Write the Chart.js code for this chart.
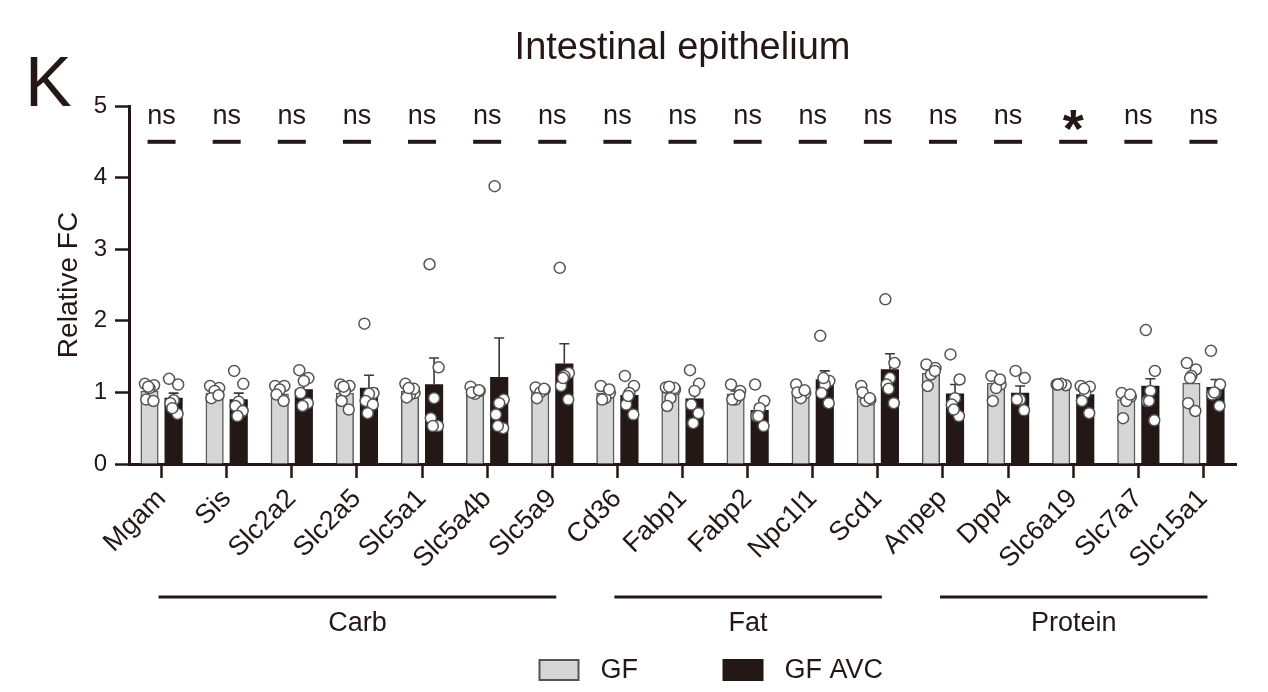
<!DOCTYPE html>
<html>
<head>
<meta charset="utf-8">
<title>Intestinal epithelium</title>
<script src="https://cdn.jsdelivr.net/npm/chart.js@4.4.1/dist/chart.umd.min.js"></script>
<style>
  html, body { margin: 0; padding: 0; background: #fff; }
</style>
</head>
<body>
<canvas id="chart" width="1268" height="692"></canvas>
<script>
// Genes on the x axis
const genes = ['Mgam', 'Sis', 'Slc2a2', 'Slc2a5', 'Slc5a1', 'Slc5a4b', 'Slc5a9',
  'Cd36', 'Fabp1', 'Fabp2', 'Npc1l1', 'Scd1',
  'Anpep', 'Dpp4', 'Slc6a19', 'Slc7a7', 'Slc15a1'];

// Nutrient groups (first and last gene index)
const groupNames = ['Carb', 'Fat', 'Protein'];
const groupStart = [0, 7, 12];
const groupEnd = [6, 11, 16];

// Bar means and SEM
const gfMean = [1.02, 0.99, 0.98, 0.99, 1.02, 1.02, 1.02, 0.99, 1.0, 0.98, 0.99, 0.95, 1.27, 1.13, 1.13, 0.9, 1.13];
const gfSem = [0.04, 0.03, 0.03, 0.05, 0.03, 0.02, 0.02, 0.03, 0.04, 0.04, 0.03, 0.04, 0.05, 0.05, 0.01, 0.05, 0.1];
const avcMean = [0.92, 0.9, 1.04, 1.06, 1.11, 1.21, 1.4, 0.96, 0.91, 0.75, 1.18, 1.32, 0.98, 0.99, 0.97, 1.09, 1.07];
const avcSem = [0.07, 0.09, 0.07, 0.18, 0.37, 0.55, 0.28, 0.07, 0.1, 0.08, 0.12, 0.22, 0.13, 0.1, 0.06, 0.1, 0.11];

// Individual animals
const gfPoints = [
  [1.12, 1.1, 1.06, 0.9, 0.88, 1.08],
  [1.09, 1.06, 1.02, 0.92, 0.96],
  [1.09, 1.09, 1.04, 0.97, 0.88],
  [1.11, 1.09, 1.02, 0.88, 0.76, 1.08],
  [1.12, 0.99, 0.97, 0.93, 1.05, 1.06],
  [1.08, 1.02, 0.98, 1.0, 1.03],
  [1.07, 1.04, 1.0, 0.92, 1.05],
  [1.09, 0.99, 0.92, 0.9, 1.04],
  [1.07, 1.04, 0.92, 0.81, 1.06, 1.08],
  [1.11, 1.02, 0.9, 0.9, 0.96],
  [1.11, 0.99, 0.92, 1.0, 1.03],
  [1.09, 0.9, 0.88, 1.0, 0.92],
  [1.39, 1.34, 1.25, 1.09, 1.3],
  [1.23, 1.11, 1.06, 0.88, 1.18],
  [1.11, 1.1, 1.12, 1.11],
  [0.99, 0.94, 0.88, 0.64, 0.97],
  [1.41, 1.32, 1.23, 0.85, 0.74, 1.2]
];
const avcPoints = [
  [1.19, 1.11, 0.89, 0.85, 0.7, 0.78],
  [1.3, 1.12, 0.87, 0.81, 0.74, 0.67],
  [1.31, 1.2, 1.16, 0.99, 0.85, 0.81],
  [1.96, 0.99, 0.98, 0.88, 0.83, 0.71],
  [2.79, 1.35, 0.92, 0.64, 0.53, 0.53],
  [3.88, 0.9, 0.85, 0.69, 0.5, 0.53],
  [2.74, 1.27, 1.23, 1.09, 0.9, 1.2],
  [1.23, 1.09, 0.99, 0.83, 0.69, 0.95],
  [1.31, 1.12, 1.02, 0.83, 0.71, 0.57],
  [1.11, 0.88, 0.78, 0.67, 0.53, 0.67],
  [1.79, 1.16, 1.11, 0.99, 0.85, 1.2],
  [2.3, 1.41, 1.2, 1.11, 0.85, 1.05],
  [1.53, 1.18, 0.92, 0.83, 0.67, 0.76],
  [1.3, 1.2, 0.9, 0.9, 0.75],
  [1.09, 1.08, 0.99, 0.88, 0.71, 1.05],
  [1.87, 1.3, 1.02, 0.88, 0.61, 0.88],
  [1.58, 1.11, 0.99, 0.97, 0.81, 1.0]
];

// Significance GF vs GF AVC
const sigLabels = ['ns', 'ns', 'ns', 'ns', 'ns', 'ns', 'ns', 'ns', 'ns', 'ns', 'ns', 'ns', 'ns', 'ns', '*', 'ns', 'ns'];

const ink = '#231815';
const gray = '#d6d6d6';
const fontFamily = '"Liberation Sans", Arial, sans-serif';
Chart.defaults.font.family = fontFamily;
Chart.defaults.color = ink;

// where each group's bar sits inside a category, and how dots spread in it
const barShift = 0.185;
const spread = [-0.07, 0.07, 0, -0.05, 0.06, -0.02];

function toBars(means, shift) {
  return means.map((v, i) => ({ x: i + shift, y: v }));
}

function toDots(points, shift) {
  const out = [];
  points.forEach((vals, i) => {
    vals.forEach((v, j) => out.push({ x: i + shift + spread[j % spread.length], y: v }));
  });
  return out;
}

const decor = {
  id: 'decor',
  afterDatasetDraw(chart, args) {
    const ds = chart.data.datasets[args.index];
    if (!ds.sem) return;
    const ctx = chart.ctx;
    const y = chart.scales.y;
    ctx.save();
    ctx.strokeStyle = '#3a3a3a';
    ctx.lineWidth = 1.6;
    args.meta.data.forEach((bar, i) => {
      const top = y.getPixelForValue(ds.data[i].y + ds.sem[i]);
      ctx.beginPath();
      ctx.moveTo(bar.x, bar.y);
      ctx.lineTo(bar.x, top);
      ctx.moveTo(bar.x - 5, top);
      ctx.lineTo(bar.x + 5, top);
      ctx.stroke();
    });
    ctx.restore();
  },
  afterDraw(chart) {
    const { ctx, chartArea: area, scales: { x, y } } = chart;
    const mid = (area.left + area.right) / 2;
    ctx.save();
    ctx.fillStyle = ink;
    ctx.strokeStyle = ink;

    // panel letter and title
    ctx.textBaseline = 'alphabetic';
    ctx.textAlign = 'left';
    ctx.font = '70px ' + fontFamily;
    ctx.fillText('K', 25, 106);
    ctx.textAlign = 'center';
    ctx.font = '38px ' + fontFamily;
    ctx.fillText('Intestinal epithelium', mid, 59);

    // significance marks
    genes.forEach((g, i) => {
      const cx = x.getPixelForValue(i);
      const yd = y.getPixelForValue(4.5);
      ctx.lineWidth = 4;
      ctx.beginPath();
      ctx.moveTo(cx - 14, yd);
      ctx.lineTo(cx + 14, yd);
      ctx.stroke();
      if (sigLabels[i] === '*') {
        ctx.font = 'bold 54px ' + fontFamily;
        const m = ctx.measureText('*');
        const yc = y.getPixelForValue(4.8);
        ctx.fillText('*', cx, yc + (m.actualBoundingBoxAscent - m.actualBoundingBoxDescent) / 2);
      } else {
        ctx.font = '27px ' + fontFamily;
        ctx.fillText(sigLabels[i], cx, y.getPixelForValue(4.75));
      }
    });

    // nutrient group brackets
    const lineY = area.bottom + 133;
    groupNames.forEach((name, k) => {
      const x0 = x.getPixelForValue(groupStart[k]) - 3;
      const x1 = x.getPixelForValue(groupEnd[k]) + 4;
      ctx.lineWidth = 3;
      ctx.beginPath();
      ctx.moveTo(x0, lineY);
      ctx.lineTo(x1, lineY);
      ctx.stroke();
      ctx.font = '27px ' + fontFamily;
      ctx.textBaseline = 'middle';
      ctx.fillText(name, (x0 + x1) / 2, lineY + 27);
    });

    // legend
    const legY = area.bottom + 196;
    const items = [
      { label: 'GF', fill: gray, stroke: '#555', dx: -143 },
      { label: 'GF AVC', fill: ink, stroke: ink, dx: 41 }
    ];
    ctx.textAlign = 'left';
    ctx.textBaseline = 'middle';
    ctx.font = '27px ' + fontFamily;
    items.forEach(it => {
      const bx = mid + it.dx;
      ctx.fillStyle = it.fill;
      ctx.fillRect(bx, legY, 39, 20);
      ctx.strokeStyle = it.stroke;
      ctx.lineWidth = 2;
      ctx.strokeRect(bx, legY, 39, 20);
      ctx.fillStyle = ink;
      ctx.fillText(it.label, bx + 61, legY + 11);
    });
    ctx.restore();
  }
};

const dotStyle = {
  type: 'scatter',
  xAxisID: 'xp',
  pointRadius: 5.5,
  pointBackgroundColor: '#fff',
  pointBorderColor: '#555',
  pointBorderWidth: 1.5,
  order: 1
};

const ctx = document.getElementById('chart').getContext('2d');
new Chart(ctx, {
  type: 'bar',
  data: {
    labels: genes,
    datasets: [
      {
        label: 'GF',
        data: toBars(gfMean, -barShift),
        sem: gfSem,
        xAxisID: 'xp',
        grouped: false,
        backgroundColor: gray,
        borderColor: '#5a5a5a',
        borderWidth: 1.5,
        categoryPercentage: 1,
        barPercentage: 1,
        maxBarThickness: 17.5,
        order: 2
      },
      {
        label: 'GF AVC',
        data: toBars(avcMean, barShift),
        sem: avcSem,
        xAxisID: 'xp',
        grouped: false,
        backgroundColor: ink,
        borderColor: ink,
        borderWidth: 0,
        categoryPercentage: 1,
        barPercentage: 1,
        maxBarThickness: 17.5,
        order: 2
      },
      Object.assign({ label: 'GF dots', data: toDots(gfPoints, -barShift) }, dotStyle),
      Object.assign({ label: 'GF AVC dots', data: toDots(avcPoints, barShift) }, dotStyle)
    ]
  },
  options: {
    responsive: false,
    animation: false,
    layout: { padding: { top: 106, right: 32, bottom: 0, left: 0 } },
    plugins: {
      legend: { display: false },
      tooltip: { enabled: false }
    },
    scales: {
      x: {
        type: 'category',
        offset: true,
        grid: { offset: false, drawOnChartArea: false, drawTicks: true, tickLength: 14, tickWidth: 2.5, tickColor: ink },
        border: { display: true, width: 3, color: ink },
        ticks: { autoSkip: false, minRotation: 45, maxRotation: 45, padding: 5, color: ink, font: { size: 27 } },
        afterFit(scale) { scale.height = 228; }
      },
      xp: {
        type: 'linear',
        display: false,
        offset: false,
        min: -0.5,
        max: 16.5
      },
      y: {
        min: 0,
        max: 5,
        ticks: { stepSize: 1, padding: 8, color: ink, font: { size: 24 } },
        grid: { drawOnChartArea: false, drawTicks: true, tickLength: 14, tickWidth: 2.5, tickColor: ink },
        border: { display: true, width: 3, color: ink },
        title: { display: true, text: 'Relative FC', color: ink, font: { size: 28 }, padding: { top: 52, bottom: 0 } },
        afterFit(scale) { scale.width = 129; }
      }
    }
  },
  plugins: [decor]
});
</script>
</body>
</html>
